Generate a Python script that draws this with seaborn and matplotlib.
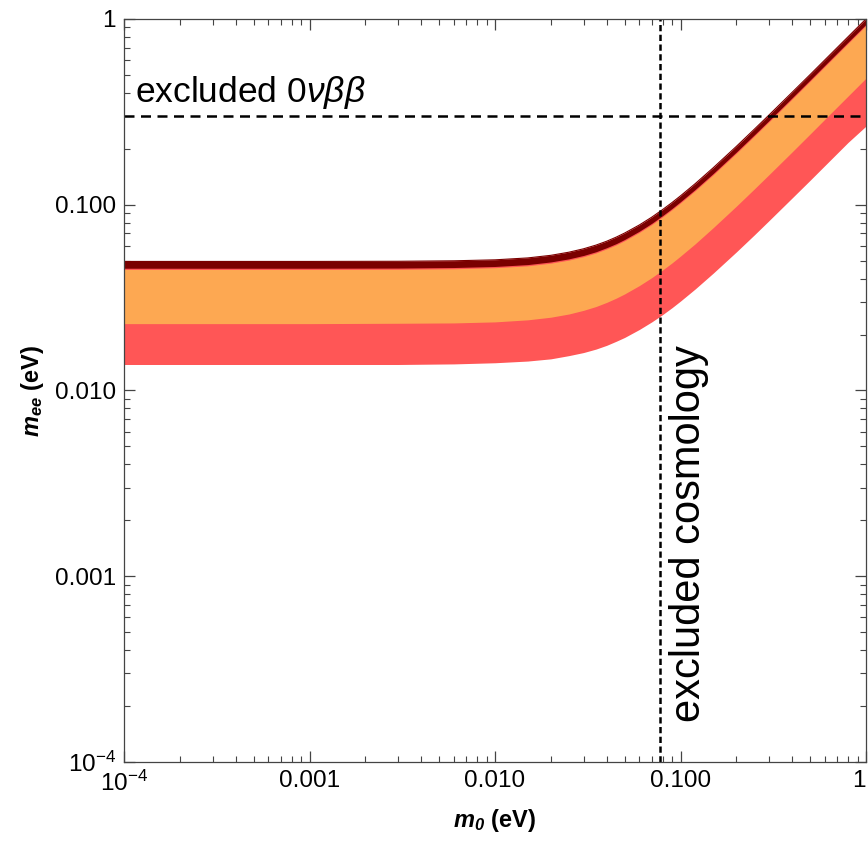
import matplotlib

matplotlib.use("Agg")
import matplotlib.pyplot as plt
import matplotlib.ticker as mticker
import numpy as np
import pandas as pd
import seaborn as sns

# lightest neutrino mass m0 (eV) and band edges
m0 = [1e-4, 1e-3, 3e-3, 0.006, 0.01, 0.015, 0.02, 0.025, 0.03, 0.035, 0.04,
      0.045, 0.05, 0.06, 0.07, 0.08, 0.09, 0.1, 0.12, 0.15, 0.2, 0.25, 0.3,
      0.4, 0.5, 0.6, 0.8, 1.0]
dark_top = [0.0495, 0.0495, 0.0496, 0.0499, 0.0505, 0.0517, 0.0534, 0.0555,
            0.0579, 0.0606, 0.0636, 0.0669, 0.0704, 0.0778, 0.0857, 0.0941,
            0.1027, 0.1116, 0.1298, 0.158, 0.206, 0.2549, 0.304, 0.403, 0.502,
            0.602, 0.8015, 1.0]
dark_bottom = [0.0455, 0.0455, 0.0456, 0.0459, 0.0465, 0.0476, 0.0492, 0.0511,
               0.0533, 0.0558, 0.0587, 0.0617, 0.0650, 0.0720, 0.0794, 0.0873,
               0.0954, 0.1038, 0.1208, 0.1471, 0.1920, 0.2377, 0.2837, 0.3764,
               0.4693, 0.5629, 0.7494, 0.935]
orange_bottom = [0.0229, 0.0229, 0.0230, 0.0231, 0.0234, 0.0240, 0.0248, 0.0258,
                 0.0270, 0.0283, 0.0298, 0.0314, 0.0331, 0.0367, 0.0405, 0.0445,
                 0.0486, 0.0529, 0.0616, 0.0752, 0.0982, 0.1216, 0.1452, 0.1926,
                 0.2404, 0.2885, 0.3843, 0.48]
red_bottom = [0.0138, 0.0138, 0.0138, 0.0139, 0.0141, 0.0144, 0.0148, 0.0154,
              0.0160, 0.0167, 0.0175, 0.0184, 0.0193, 0.0213, 0.0234, 0.0256,
              0.0279, 0.0303, 0.0352, 0.0428, 0.0557, 0.0688, 0.0821, 0.1088,
              0.1355, 0.1625, 0.2164, 0.265]

bbd_limit = 0.30
cosmo_limit = 0.078

x_ticks = [1e-4, 1e-3, 1e-2, 1e-1, 1]
x_tick_labels = ["$10^{-4}$", "0.001", "0.010", "0.100", "1"]

sns.set_theme(
    style="ticks",
    rc={
        "xtick.direction": "in",
        "ytick.direction": "in",
        "xtick.top": True,
        "ytick.right": True,
        "xtick.major.size": 8,
        "ytick.major.size": 8,
        "xtick.minor.size": 4.5,
        "ytick.minor.size": 4.5,
        "xtick.major.width": 0.9,
        "ytick.major.width": 0.9,
        "xtick.minor.width": 0.8,
        "ytick.minor.width": 0.8,
        "axes.edgecolor": "#444444",
        "axes.linewidth": 0.9,
        "xtick.color": "#444444",
        "ytick.color": "#444444",
        "xtick.labelcolor": "black",
        "ytick.labelcolor": "black",
        "text.color": "black",
        "axes.labelcolor": "black",
    },
)
plt.rcParams["font.family"] = ["Liberation Sans", "DejaVu Sans"]
plt.rcParams["mathtext.fontset"] = "custom"
plt.rcParams["mathtext.rm"] = "Liberation Sans"
plt.rcParams["mathtext.it"] = "Liberation Sans:italic"
plt.rcParams["mathtext.bf"] = "Liberation Sans:bold"
plt.rcParams["mathtext.bfit"] = "Liberation Sans:bold:italic"

bands = pd.DataFrame({
    "m0": m0,
    "dark_top": dark_top,
    "dark_bottom": dark_bottom,
    "orange_bottom": orange_bottom,
    "red_bottom": red_bottom,
})
bands["orange_top"] = bands["dark_bottom"] * 0.985

fig = plt.figure(figsize=(8.68, 8.42), dpi=100)
ax = fig.add_axes([0.1429, 0.095, 0.8548, 0.8825])

ax.fill_between(bands["m0"], bands["red_bottom"], bands["dark_top"],
                color="#ff5656", linewidth=0)
ax.fill_between(bands["m0"], bands["orange_bottom"], bands["orange_top"],
                color="#fda852", linewidth=0)
ax.fill_between(bands["m0"], bands["dark_bottom"], bands["dark_top"],
                color="#7a0000", linewidth=0)
sns.lineplot(data=bands, x="m0", y="dark_top", color="#7a0000",
             linewidth=0.8, ax=ax)

ax.axhline(bbd_limit, color="black", linewidth=1.8, dashes=(4, 2.6))
ax.axvline(cosmo_limit, color="black", linewidth=1.8, dashes=(2.5, 1.4))

ax.set_xscale("log")
ax.set_yscale("log")
ax.set_xlim(1e-4, 1)
ax.set_ylim(1e-4, 1)
ax.set_xticks(x_ticks)
ax.set_xticklabels(x_tick_labels)
ax.set_yticks(x_ticks)
ax.set_yticklabels(x_tick_labels)
ax.xaxis.set_minor_locator(mticker.LogLocator(base=10, subs=np.arange(2, 10)))
ax.yaxis.set_minor_locator(mticker.LogLocator(base=10, subs=np.arange(2, 10)))
ax.xaxis.set_minor_formatter(mticker.NullFormatter())
ax.yaxis.set_minor_formatter(mticker.NullFormatter())
ax.tick_params(axis="both", which="major", labelsize=17.5, pad=6)
ax.get_xticklabels()[-1].set_horizontalalignment("right")

ax.set_xlabel(r"$\mathbfit{m}_{\mathbfit{0}}$ (eV)", fontsize=17,
              fontweight="bold", labelpad=8)
ax.set_ylabel(r"$\mathbfit{m}_{\mathbfit{ee}}$ (eV)", fontsize=17,
              fontweight="bold", labelpad=6)

ax.text(1.15e-4, 0.318, r"excluded 0$\nu\beta\beta$", fontsize=25.5,
        ha="left", va="bottom")
ax.text(0.111, 1.7e-3, "excluded cosmology", fontsize=30, rotation=90,
        ha="center", va="center")

fig.savefig("out.png", dpi=100)
